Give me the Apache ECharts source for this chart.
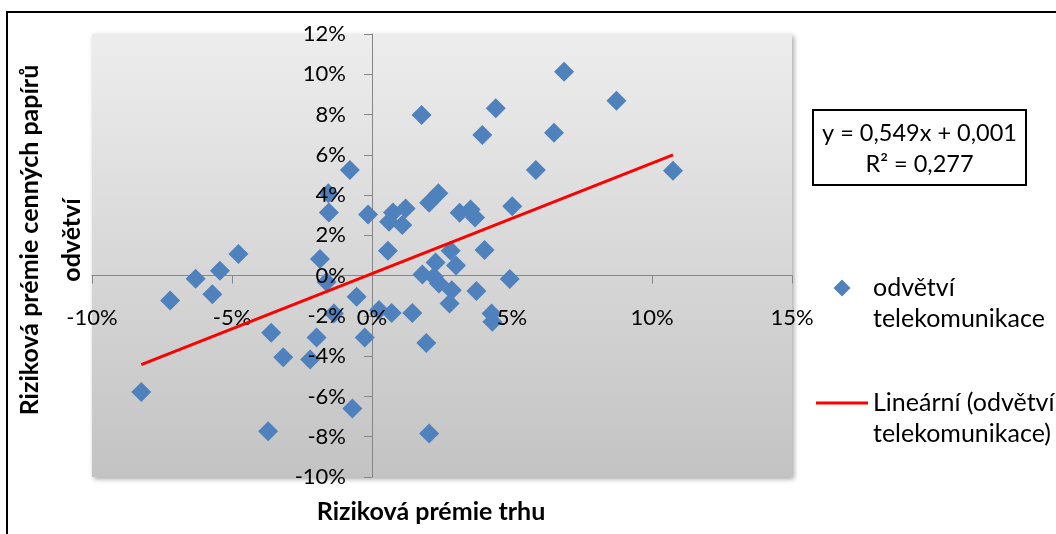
<!DOCTYPE html>
<html>
<head>
<meta charset="utf-8">
<script src="https://cdn.jsdelivr.net/npm/echarts@6/dist/echarts.min.js"></script>
<style>
  html, body { margin: 0; padding: 0; background: #ffffff; }
  #chart { width: 1056px; height: 534px; }
</style>
</head>
<body>
<div id="chart"></div>
<script>
// Market risk premium (x) against the telecom sector's risk premium (y), both in %
const marketPremium = [
  -8.24, -7.21, -6.30, -5.70, -5.43, -4.77, -3.60, -3.17, -3.71, -1.98,
  -2.21, -0.70, -0.79, -1.56, -1.54, -0.14, -1.86, -1.62, -0.55, -1.36,
  -0.26, 0.25, 0.70, 1.44, 1.94, 2.04, 0.57, 2.81, 4.02, 2.27,
  3.00, 1.80, 2.21, 2.39, 2.85, 2.77, 3.73, 4.92, 4.27, 4.30,
  1.77, 4.42, 3.94, 6.86, 8.73, 6.50, 5.85, 10.75, 2.37, 5.01,
  0.75, 1.20, 0.61, 1.08, 2.04, 3.13, 3.52, 3.68
];
const sectorPremium = [
  -5.78, -1.23, -0.16, -0.92, 0.24, 1.08, -2.84, -4.05, -7.73, -3.07,
  -4.17, -6.60, 5.24, 4.09, 3.14, 3.04, 0.82, -0.31, -1.05, -1.88,
  -3.07, -1.71, -1.85, -1.85, -3.34, -7.84, 1.23, 1.23, 1.27, 0.65,
  0.50, 0.06, -0.06, -0.39, -0.72, -1.38, -0.76, -0.17, -1.88, -2.29,
  7.98, 8.31, 6.98, 10.13, 8.69, 7.10, 5.24, 5.21, 4.09, 3.45,
  3.13, 3.34, 2.67, 2.51, 3.62, 3.12, 3.29, 2.89
];

// Axis ranges (percent)
const xRange = [-10, 15];
const xStep = 5;
const yRange = [-10, 12];
const yStep = 2;

// Linear trend fitted in fractional units: y = slope * x + intercept
const trendSlope = 0.549;
const trendIntercept = 0.001;
const trendR2 = 0.277;

const seriesName = 'odvětví telekomunikace';
const trendName = 'Lineární (odvětví telekomunikace)';
const xTitle = 'Riziková prémie trhu';
const yTitle = ['Riziková prémie cenných papírů', 'odvětví'];

const FONT = 'Lato';
const AXIS_GRAY = '#868686';
const MARKER_BLUE = '#4F81BD';
const TREND_RED = '#FF0000';

// Plot area box
const GRID = { left: 92, top: 34, width: 700, height: 443 };

const points = marketPremium.map((x, i) => [x, sectorPremium[i]]);
const trendAt = x => trendSlope * x + trendIntercept * 100;
const xLo = Math.min(...marketPremium);
const xHi = Math.max(...marketPremium);
const trendLine = [[xLo, trendAt(xLo)], [xHi, trendAt(xHi)]];
const decimal = v => v.toFixed(3).replace('.', ',');
const equationText = 'y = ' + decimal(trendSlope) + 'x + ' + decimal(trendIntercept);
const r2Text = 'R² = ' + decimal(trendR2);
const pct = v => v + '%';

// Shift that brings a label-only axis from the grid edge onto the zero line
const xLabelShift = -(0 - yRange[0]) / (yRange[1] - yRange[0]) * GRID.height;
const yLabelShift = -(0 - xRange[0]) / (xRange[1] - xRange[0]) * GRID.width;

const chart = echarts.init(document.getElementById('chart'), null, { renderer: 'canvas' });

const labelFont = { fontFamily: FONT, fontSize: 22, color: '#000' };
const grayLine = { show: true, onZero: true, onZeroAxisIndex: 0, lineStyle: { color: AXIS_GRAY, width: 1 } };

// Axis pairs: the first draws line + ticks beneath the markers,
// the second only draws tick labels above them.
const xAxes = [
  {
    type: 'value', position: 'bottom', min: xRange[0], max: xRange[1], interval: xStep, z: 1,
    axisLine: grayLine,
    axisTick: { show: true, length: 8, lineStyle: { color: AXIS_GRAY } },
    axisLabel: { show: false },
    splitLine: { show: false }
  },
  {
    type: 'value', position: 'bottom', offset: xLabelShift,
    min: xRange[0], max: xRange[1], interval: xStep, z: 3,
    axisLine: { show: false, onZero: false },
    axisTick: { show: false },
    axisLabel: Object.assign({ show: true, margin: 31, formatter: pct }, labelFont),
    splitLine: { show: false }
  }
];
const yAxes = [
  {
    type: 'value', position: 'left', min: yRange[0], max: yRange[1], interval: yStep, z: 1,
    axisLine: grayLine,
    axisTick: { show: true, length: 8, lineStyle: { color: AXIS_GRAY } },
    axisLabel: { show: false },
    splitLine: { show: false }
  },
  {
    type: 'value', position: 'left', offset: yLabelShift,
    min: yRange[0], max: yRange[1], interval: yStep, z: 3,
    axisLine: { show: false, onZero: false },
    axisTick: { show: false },
    axisLabel: Object.assign({ show: true, margin: 26, formatter: pct }, labelFont),
    splitLine: { show: false }
  }
];

// Legend text: an empty first line keeps the entry name level with its icon
const legendBase = {
  orient: 'vertical',
  padding: 0,
  itemWidth: 52,
  itemGap: 0,
  selectedMode: false,
  formatter: name => ' \n' + name.replace(' telekomunikace', '\ntelekomunikace'),
  textStyle: { fontFamily: FONT, fontSize: 25, color: '#000', lineHeight: 31 }
};

const option = {
  animation: false,
  backgroundColor: '#ffffff',
  grid: Object.assign({}, GRID, {
    show: true, borderWidth: 0,
    backgroundColor: new echarts.graphic.LinearGradient(0, 0, 0, 1, [
      { offset: 0, color: '#ededed' },
      { offset: 1, color: '#c3c3c3' }
    ]),
    shadowColor: 'rgba(0,0,0,0.35)', shadowBlur: 5, shadowOffsetX: 2, shadowOffsetY: 2
  }),
  xAxis: xAxes,
  yAxis: yAxes,
  legend: [
    Object.assign({}, legendBase, {
      left: 833.5, top: 241.5, itemHeight: 17, symbolKeepAspect: true,
      data: [{ name: seriesName, icon: 'path://M0,1L1,0L2,1L1,2Z' }]
    }),
    Object.assign({}, legendBase, {
      left: 816, top: 356.5, itemHeight: 3, symbolKeepAspect: false,
      data: [{ name: trendName, icon: 'rect' }]
    })
  ],
  series: [
    {
      name: seriesName,
      type: 'scatter',
      xAxisIndex: 0, yAxisIndex: 0,
      symbol: 'diamond',
      symbolSize: 20,
      itemStyle: { color: MARKER_BLUE, opacity: 1 },
      z: 2,
      data: points
    },
    {
      name: trendName,
      type: 'line',
      xAxisIndex: 0, yAxisIndex: 0,
      symbol: 'none',
      lineStyle: { color: TREND_RED, width: 3 },
      itemStyle: { color: TREND_RED },
      z: 4,
      data: trendLine
    }
  ],
  graphic: [
    {
      type: 'rect', z: 0,
      shape: { x: 7, y: 12, width: 1100, height: 600 },
      style: { fill: 'none', stroke: '#000', lineWidth: 2 }
    },
    {
      type: 'rect', z: 5,
      shape: { x: 813, y: 110, width: 213, height: 75 },
      style: { fill: '#ffffff', stroke: '#000', lineWidth: 2 }
    },
    {
      type: 'text', z: 6, x: 919.5, y: 133,
      style: { text: equationText, font: '23.5px ' + FONT, fill: '#000', align: 'center', verticalAlign: 'middle' }
    },
    {
      type: 'text', z: 6, x: 919.5, y: 164,
      style: { text: r2Text, font: '23.5px ' + FONT, fill: '#000', align: 'center', verticalAlign: 'middle' }
    },
    {
      type: 'text', z: 6, x: 431, y: 512,
      style: { text: xTitle, font: 'bold 25px ' + FONT, fill: '#000', align: 'center', verticalAlign: 'middle' }
    },
    {
      type: 'text', z: 6, x: 51, y: 240, rotation: Math.PI / 2,
      style: { text: yTitle.join('\n'), font: 'bold 25px ' + FONT, lineHeight: 42, fill: '#000', align: 'center', verticalAlign: 'middle' }
    }
  ]
};

chart.setOption(option);
</script>
</body>
</html>
